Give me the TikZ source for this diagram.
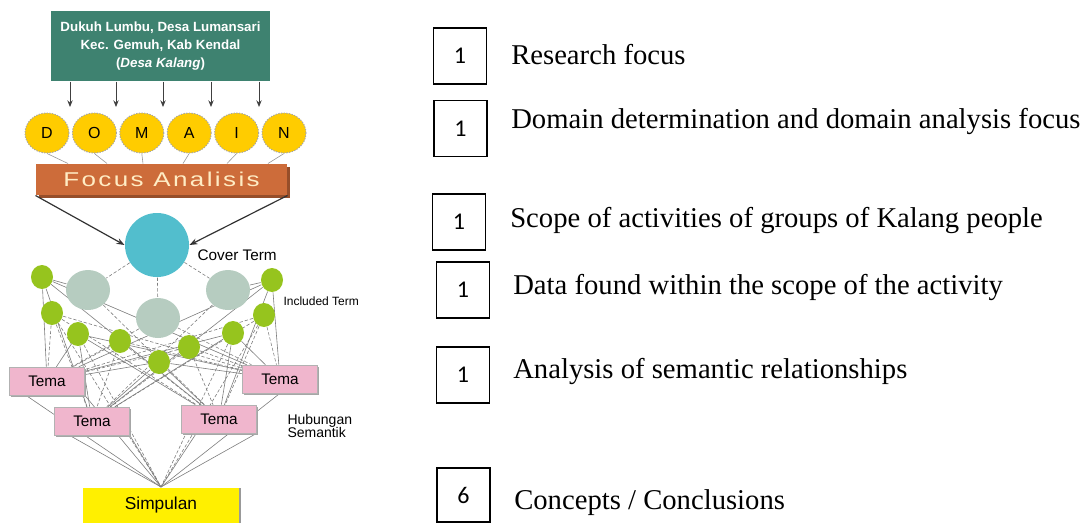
\documentclass[tikz,border=0pt]{standalone}
\usepackage{fontspec}
\setmainfont{Liberation Serif}
\setsansfont{Liberation Sans}
\newfontfamily\numfont{Carlito}
\newfontfamily\widesans[FakeStretch=1.3,LetterSpace=12]{Liberation Sans}
\usetikzlibrary{arrows.meta,shapes.geometric,calc,shadows}

\pgfdeclarelayer{web}
\pgfsetlayers{web,main}

\definecolor{tealbox}{RGB}{62,130,112}
\definecolor{focusor}{RGB}{205,108,58}
\definecolor{focusdk}{RGB}{150,78,42}
\definecolor{focustx}{RGB}{255,236,196}
\definecolor{domgold}{RGB}{255,204,0}
\definecolor{covercyan}{RGB}{82,190,205}
\definecolor{inclgrey}{RGB}{182,204,192}
\definecolor{limegreen}{RGB}{150,196,30}
\definecolor{temapink}{RGB}{240,182,205}
\definecolor{simpyel}{RGB}{255,240,0}
\definecolor{webgrey}{RGB}{125,125,125}

\tikzset{
  every picture/.style={line width=0.75pt},
  locbox/.style={fill=tealbox, text=white, align=center, inner sep=0pt,
    minimum width=164.25pt, minimum height=52.5pt,
    font=\sffamily\bfseries\fontsize{10}{13.5}\selectfont},
  domnode/.style={ellipse, fill=domgold, draw=gray!70, dash pattern=on 1pt off 1pt,
    minimum width=33pt, minimum height=30pt, inner sep=0pt,
    font=\sffamily\fontsize{12}{12}\selectfont},
  focusbox/.style={fill=focusor, text=focustx, inner sep=0pt,
    minimum width=188.25pt, minimum height=23.25pt,
    drop shadow={shadow xshift=2.2pt, shadow yshift=-2.2pt, fill=focusdk, opacity=1},
    font=\widesans\fontsize{15}{15}\selectfont},
  covernode/.style={circle, fill=covercyan, minimum size=48pt, inner sep=0pt},
  inclnode/.style={ellipse, fill=inclgrey, minimum width=33pt, minimum height=30pt, inner sep=0pt},
  termdot/.style={ellipse, fill=limegreen, minimum width=16.5pt, minimum height=18pt, inner sep=0pt},
  temabox/.style={fill=temapink, draw=gray!60, line width=0.4pt, inner sep=0pt,
    minimum width=56.25pt, minimum height=21pt,
    drop shadow={shadow xshift=1.2pt, shadow yshift=-1.2pt, fill=gray!70, opacity=1},
    font=\sffamily\fontsize{11.5}{11.5}\selectfont},
  simpbox/.style={fill=simpyel, inner sep=0pt, minimum width=117pt, minimum height=26.25pt,
    drop shadow={shadow xshift=1.8pt, shadow yshift=0pt, fill=gray!80, opacity=1},
    font=\sffamily\fontsize{13}{13}\selectfont},
  smalllabel/.style={inner sep=0pt, font=\sffamily\fontsize{#1}{#1}\selectfont},
  locarrow/.style={-{Stealth[length=5pt,width=4pt]}, draw=black!75},
  focusarrow/.style={-{Stealth[length=6pt,width=4.5pt]}, draw=black!80, line width=0.9pt},
  webline/.style={draw=webgrey, line width=0.45pt},
  webdash/.style={webline, dash pattern=on 2.5pt off 1.5pt},
  legbox/.style={draw=black, line width=1.4pt, inner sep=0pt, minimum width=39.75pt,
    minimum height=42pt, font=\numfont\fontsize{18}{18}\selectfont},
  legtext/.style={anchor=west, inner sep=0pt, font=\fontsize{21.5}{24}\selectfont}
}

\begin{document}
\begin{tikzpicture}[x=0.75pt,y=0.75pt,yscale=-1,xscale=1]
\useasboundingbox (0,0) rectangle (1089,522);

% Location box
\node [locbox] (loc) at (160.5,46) {Dukuh Lumbu, Desa Lumansari\\Kec. Gemuh, Kab Kendal\\(\textit{Desa Kalang})};

% Domain letters
\foreach \l [count=\i] in {D,O,M,A,I,N}
  \node [domnode] (d\i) at ({47+47.4*(\i-1)},133) {\l};

% Arrows into the domain row
\foreach \ax [count=\i] in {70,116,163,211,259}{
  \coordinate (a\i) at (\ax,107);
  \draw [locarrow] (loc.south -| a\i) -- (a\i);
}

% Focus box
\node [focusbox] (focus) at (161.5,179.5) {Focus Analisis};
\foreach \fx [count=\i] in {68,107,143,183,227,268}
  \draw [webline, draw=gray!80] (d\i.south) -- (focus.north -| \fx,0);

% Cover term
\node [covernode] (cover) at (157,245) {};
\node [smalllabel=11.5, anchor=west] (coverlbl) at (197,255) {Cover Term};
\draw [focusarrow] (focus.south west) -- (cover.west);
\draw [focusarrow] (focus.south east) -- (cover.east);

% Included terms
\node [inclnode] (i1) at (88,290) {};
\node [inclnode] (i2) at (158,318) {};
\node [inclnode] (i3) at (228,290) {};
\node [smalllabel=9, anchor=west] (incllbl) at (283,301) {Included Term};

\foreach \gx/\gy [count=\i] in {42/277,52/313,78/334,120/341,159/362,189/347,233/333,264/315,272/280}
  \node [termdot] (g\i) at (\gx,\gy) {};

% Tema boxes
\node [temabox] (t1) at (47,381) {Tema};
\node [temabox] (t2) at (280,379) {Tema};
\node [temabox] (t3) at (92,421) {Tema};
\node [temabox] (t4) at (219,419) {Tema};
\node [smalllabel=10.5, anchor=west, align=left] (hublbl) at (287,426) {Hubungan\\[-1pt]Semantik};

% Simpulan
\node [simpbox] (simp) at (161,505) {Simpulan};

% semantic web
\begin{pgfonlayer}{web}
\draw [webdash] (cover) -- (i1);
\draw [webdash] (cover) -- (i2);
\draw [webdash] (cover) -- (i3);
\draw [webline] (g1) -- (i1);
\draw [webline] (g9) -- (i3);
\foreach \i in {1,3,5,7,9}
  \foreach \j in {1,...,4}
    \draw [webline] (g\i) -- (t\j);
\foreach \i in {2,4,6,8}
  \foreach \j in {1,...,4}
    \draw [webdash] (g\i) -- (t\j);
\draw [webdash] (i2) -- (t1);
\draw [webdash] (i2) -- (t2);
\draw [webdash] (i1) -- (t4);
\draw [webdash] (i3) -- (t3);
\draw [webline] ($(t1.south west)!0.22!(t1.south east)$) -- (simp.north);
\draw [webline] (t1.south east) -- (simp.north);
\draw [webline] ($(t3.south west)!0.2!(t3.south east)$) -- (simp.north);
\draw [webline] (t3.south east) -- (simp.north);
\draw [webline] ($(t4.south west)!0.2!(t4.south east)$) -- (simp.north);
\draw [webline] (t4.south east) -- (simp.north);
\draw [webline] (t2.south) -- (simp.north);
\foreach \i in {2,3,7,8}
  \draw [webdash] (g\i) -- (simp.north);
\end{pgfonlayer}

% Legend
\node [legbox] (b1) at (460,56) {1};
\node [legtext] (l1) at (511,55) {Research focus};
\node [legbox] (b2) at (460.5,128.5) {1};
\node [legtext] (l2) at (511,121) {Domain determination and domain analysis focus};
\node [legbox] (b3) at (459,222) {1};
\node [legtext] (l3) at (510,220) {Scope of activities of groups of Kalang people};
\node [legbox] (b4) at (463,290) {1};
\node [legtext] (l4) at (513,287) {Data found within the scope of the activity};
\node [legbox] (b5) at (463,375) {1};
\node [legtext] (l5) at (513,371) {Analysis of semantic relationships};
\node [legbox, minimum height=40.5pt] (b6) at (463.5,495) {6};
\node [legtext] (l6) at (514,503) {Concepts / Conclusions};
\end{tikzpicture}
\end{document}
